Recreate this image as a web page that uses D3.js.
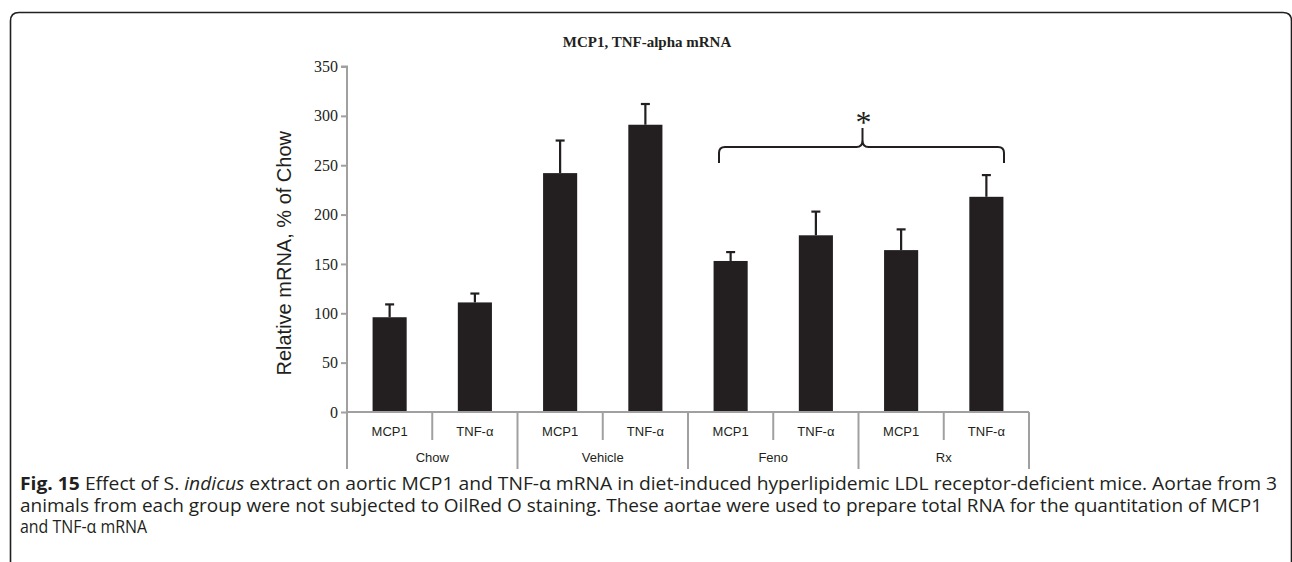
<!DOCTYPE html>
<html>
<head>
<meta charset="utf-8">
<script src="https://cdn.jsdelivr.net/npm/d3@7"></script>
<style>
  html, body { margin: 0; padding: 0; background: #fff; }
  svg { display: block; }
</style>
</head>
<body>
<svg id="chart" width="1292" height="562"></svg>
<script>
// ---- Data ----
const groups = ["Chow", "Vehicle", "Feno", "Rx"];
const genes = ["MCP1", "TNF-α"];
const means = [96, 111, 242, 291, 153, 179, 164, 218];
const errors = [13, 9, 33, 21, 9, 24, 21, 22];
const yTicks = [0, 50, 100, 150, 200, 250, 300, 350];
const titleText = "MCP1, TNF-alpha mRNA";
const yLabel = "Relative mRNA, % of Chow";

const cats = [];
groups.forEach((g, gi) => genes.forEach((s, si) => cats.push({ key: g + "|" + s, group: g, gene: s, value: means[gi * genes.length + si], err: errors[gi * genes.length + si] })));

const svg = d3.select("#chart");
const ink = "#231f20";
const axisGrey = "#a0a0a0";

// border frame
svg.append("path")
  .attr("d", "M10.5,562 L10.5,21 Q10.5,12.5 19,12.5 L1283,12.5 Q1291.5,12.5 1291.5,21 L1291.5,562")
  .attr("fill", "none").attr("stroke", ink).attr("stroke-width", 1.6);

const x = d3.scaleBand().domain(cats.map(d => d.key)).range([347, 1029]).paddingInner(0).paddingOuter(0);
const y = d3.scaleLinear().domain([0, 350]).range([412, 66.5]);
const barW = x.bandwidth() * 0.4;

// title
svg.append("text").attr("x", 647).attr("y", 47).attr("text-anchor", "middle")
  .style("font-family", "'Liberation Serif', 'Times New Roman', serif").style("font-weight", "bold").style("font-size", "15px")
  .attr("fill", ink).text(titleText);

// y axis
const yAxis = svg.append("g").attr("transform", "translate(347,0)")
  .call(d3.axisLeft(y).tickValues(yTicks).tickSize(6).tickPadding(3).tickFormat(d3.format("d")));
yAxis.select(".domain").attr("stroke", axisGrey).attr("stroke-width", 2).attr("d", `M-6,${y(350)}H0V${y(0)}`);
yAxis.selectAll(".tick line").attr("stroke", axisGrey).attr("stroke-width", 2);
yAxis.selectAll(".tick text").attr("fill", ink)
  .style("font-family", "'Liberation Serif', 'Times New Roman', serif").style("font-size", "16px");

// y label
svg.append("text").attr("transform", `translate(291,${(y(0) + y(350)) / 2 + 14}) rotate(-90)`)
  .attr("text-anchor", "middle")
  .style("font-family", "'Liberation Sans', Arial, sans-serif").style("font-size", "20px")
  .attr("fill", ink).text(yLabel);

// bars
svg.append("g").selectAll("rect").data(cats).join("rect")
  .attr("x", d => x(d.key) + (x.bandwidth() - barW) / 2)
  .attr("y", d => y(d.value))
  .attr("width", barW)
  .attr("height", d => y(0) - y(d.value))
  .attr("fill", ink);

// error bars
const eb = svg.append("g").attr("stroke", ink).attr("stroke-width", 2.2);
eb.selectAll("line.v").data(cats).join("line").attr("class", "v")
  .attr("x1", d => x(d.key) + x.bandwidth() / 2).attr("x2", d => x(d.key) + x.bandwidth() / 2)
  .attr("y1", d => y(d.value)).attr("y2", d => y(d.value + d.err));
eb.selectAll("line.c").data(cats).join("line").attr("class", "c")
  .attr("x1", d => x(d.key) + x.bandwidth() / 2 - 4.5).attr("x2", d => x(d.key) + x.bandwidth() / 2 + 4.5)
  .attr("y1", d => y(d.value + d.err)).attr("y2", d => y(d.value + d.err));

// category axis
const xa = svg.append("g").attr("stroke", axisGrey).attr("stroke-width", 2);
xa.append("line").attr("x1", 347).attr("x2", 1029).attr("y1", y(0)).attr("y2", y(0));
const bounds = cats.map((d, i) => ({ pos: x(d.key), isGroup: i % genes.length === 0 }));
bounds.push({ pos: x(cats[cats.length - 1].key) + x.bandwidth(), isGroup: true });
xa.selectAll("line.div").data(bounds).join("line").attr("class", "div")
  .attr("x1", d => d.pos).attr("x2", d => d.pos)
  .attr("y1", y(0)).attr("y2", d => d.isGroup ? 469 : 440);

const labStyle = sel => sel.style("font-family", "'Liberation Sans', Arial, sans-serif").style("font-size", "13px").attr("fill", ink).attr("text-anchor", "middle");
svg.append("g").selectAll("text").data(cats).join("text")
  .attr("x", d => x(d.key) + x.bandwidth() / 2).attr("y", 436)
  .call(labStyle).text(d => d.gene);
svg.append("g").selectAll("text").data(groups).join("text")
  .attr("x", g => x(g + "|" + genes[0]) + x.bandwidth()).attr("y", 462)
  .call(labStyle).text(g => g);

// significance bracket over Feno and Rx
const bl = x("Feno|MCP1") + 31, br = x("Rx|TNF-α") + x.bandwidth() - 25;
const bm = (bl + br) / 2 + 1;
const yb = 147, ye = 163, yp = 128;
svg.append("path")
  .attr("d", `M${bl},${ye} L${bl},${yb + 6} Q${bl},${yb} ${bl + 6},${yb} L${bm - 6},${yb} Q${bm},${yb} ${bm},${yb - 7} L${bm},${yp} M${bm},${yb - 7} Q${bm},${yb} ${bm + 6},${yb} L${br - 6},${yb} Q${br},${yb} ${br},${yb + 6} L${br},${ye}`)
  .attr("fill", "none").attr("stroke", ink).attr("stroke-width", 2);
svg.append("text").attr("x", bm + 1).attr("y", 133).attr("text-anchor", "middle")
  .style("font-family", "'Liberation Serif', serif").style("font-size", "32px").attr("fill", ink).text("*");

// caption
const cap = svg.append("g").style("font-family", "'Open Sans', 'Noto Sans', sans-serif").style("font-size", "17.5px").attr("fill", ink);
const l1 = cap.append("text").attr("x", 20).attr("y", 490);
l1.append("tspan").style("font-weight", "bold").text("Fig. 15");
l1.append("tspan").text(" Effect of S. ");
l1.append("tspan").style("font-style", "italic").text("indicus");
l1.append("tspan").text(" extract on aortic MCP1 and TNF-α mRNA in diet-induced hyperlipidemic LDL receptor-deficient mice. Aortae from 3");
const l2 = cap.append("text").attr("x", 20).attr("y", 511.5)
  .text("animals from each group were not subjected to OilRed O staining. These aortae were used to prepare total RNA for the quantitation of MCP1");
const l3 = cap.append("text").attr("x", 20).attr("y", 533).text("and TNF-α mRNA");
l1.attr("textLength", 1257).attr("lengthAdjust", "spacingAndGlyphs");
l2.attr("textLength", 1242).attr("lengthAdjust", "spacingAndGlyphs");
l3.attr("textLength", 127).attr("lengthAdjust", "spacingAndGlyphs");
</script>
</body>
</html>
